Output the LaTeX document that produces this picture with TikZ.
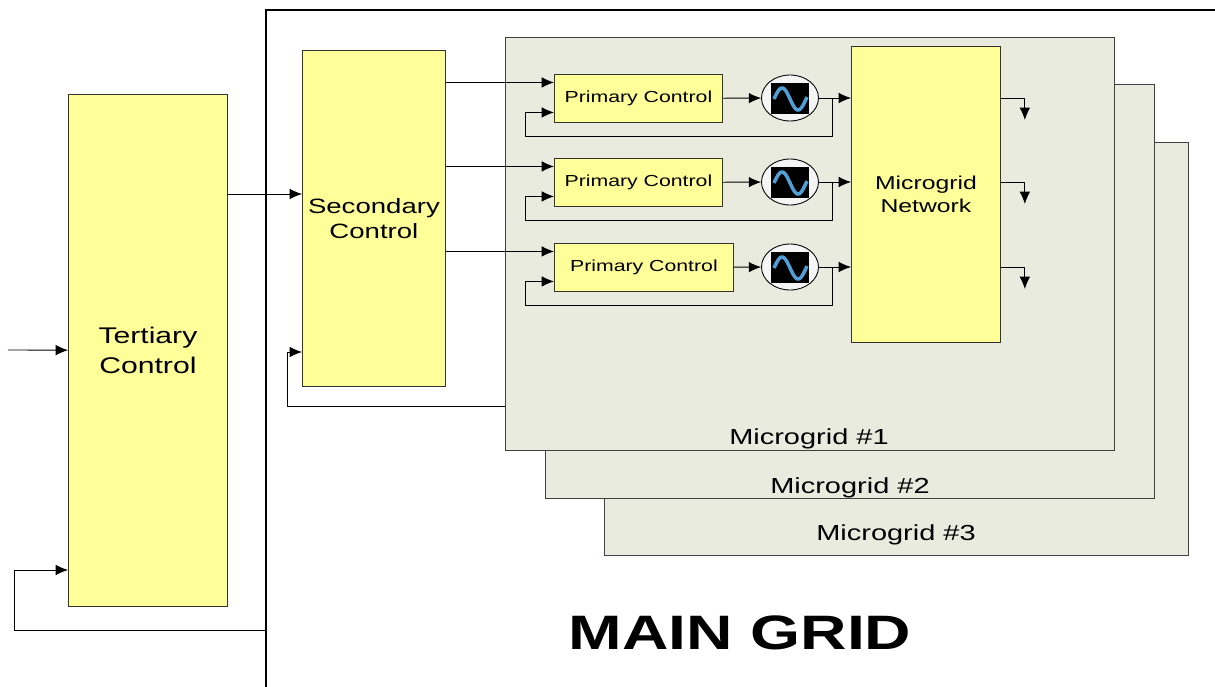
\documentclass[tikz,border=0pt]{standalone}
\usepackage{fontspec}
\setmainfont{Liberation Sans}[FakeStretch=1.33]
\usetikzlibrary{arrows.meta,shapes.geometric}
\definecolor{boxyellow}{RGB}{255,255,153}
\definecolor{gridgray}{RGB}{233,235,223}
\definecolor{wave}{RGB}{80,160,215}

\begin{document}
\begin{tikzpicture}[x=0.02cm,y=-0.02cm,>={Latex[length=7pt,width=6pt]},line width=0.5pt,
                    ctrl node/.style={rectangle,draw=black!80,fill=boxyellow,inner sep=0pt,anchor=north west,align=center},
                    grid node/.style={rectangle,draw=black!75,fill=gridgray,inner sep=0pt,anchor=north west},
                    gen node/.style={ellipse,draw=black,fill=black!4,minimum width=1.14cm,minimum height=0.92cm,inner sep=0pt},
                    mg label/.style={anchor=base,font=\fontsize{12.4}{14}\selectfont}]
      \useasboundingbox (0,0) rectangle (1215,687);
      \draw[line width=1.6pt] (266,687) -- (266,10) -- (1215,10);
      \node[grid node,minimum width=11.68cm,minimum height=8.26cm] (mg3) at (604,142) {};
      \node[grid node,minimum width=12.18cm,minimum height=8.28cm] (mg2) at (545,84) {};
      \node[grid node,minimum width=12.18cm,minimum height=8.26cm] (mg1) at (505,37) {};
      \node[mg label] (mg3 label) at (896,540) {Microgrid \#3};
      \node[mg label] (mg2 label) at (850,493) {Microgrid \#2};
      \node[mg label] (mg1 label) at (809,444) {Microgrid \#1};
      \node[ctrl node,minimum width=3.18cm,minimum height=10.24cm,font=\fontsize{12.9}{17}\selectfont] (tert) at (68,94) {Tertiary\\Control};
      \node[ctrl node,minimum width=2.86cm,minimum height=6.72cm,font=\fontsize{11.8}{14}\selectfont] (sec) at (302,50) {Secondary\\Control};
      \node[ctrl node,minimum width=2.98cm,minimum height=5.92cm,font=\fontsize{10.6}{12.7}\selectfont] (net) at (851,46) {Microgrid\\Network};
      \node[ctrl node,minimum width=3.36cm,minimum height=0.96cm,font=\fontsize{9.1}{11}\selectfont] (pc1) at (554,74) {Primary Control};
      \node[ctrl node,minimum width=3.36cm,minimum height=0.96cm,font=\fontsize{9.1}{11}\selectfont] (pc2) at (554,158) {Primary Control};
      \node[ctrl node,minimum width=3.58cm,minimum height=0.96cm,font=\fontsize{9.1}{11}\selectfont] (pc3) at (554,243) {Primary Control};
      \node[font=\bfseries\fontsize{27.5}{30}\selectfont] (maingrid) at (740,633) {MAIN GRID};
      \foreach \i/\r in {1/98,2/182,3/267} {
        \node[gen node] (g\i) at (790,\r) {};
        \fill[black] (771,\r-15) rectangle (809,\r+16);
        \draw[wave,line width=2pt] plot[domain=-20:350,samples=37] ({774+(\x+20)/370*33},{\r+1-11*sin(\x+20)});
        \coordinate (in\i) at ([yshift=0.32cm]pc\i.west);
        \coordinate (fb\i) at ([yshift=-0.28cm]pc\i.west);
        \coordinate (tap\i) at ([xshift=0.27cm]g\i.east);
        \draw[->] (sec.east |- in\i) -- (in\i);
        \draw[->] (pc\i) -- (g\i);
        \draw[->] (g\i) -- (net.west |- g\i);
        \draw[->] (tap\i) -- ++(0,38) -| ([xshift=-0.58cm]fb\i) -- (fb\i);
        \draw[->] (net.east |- g\i) -| ++(24,22);
      }
      \coordinate (ext) at (8,350);
      \coordinate (gridtap) at (266,630);
      \draw[->] (ext) -- (tert);
      \draw[->] (gridtap) -- (14,630) |- (tert.west |- 0,570);
      \draw[->] (tert.east |- 0,194) -- (sec.west |- 0,194);
      \draw[->] (mg1.west |- 0,406) -- (287,406) |- (sec.west |- 0,352);
    \end{tikzpicture}
\end{document}
